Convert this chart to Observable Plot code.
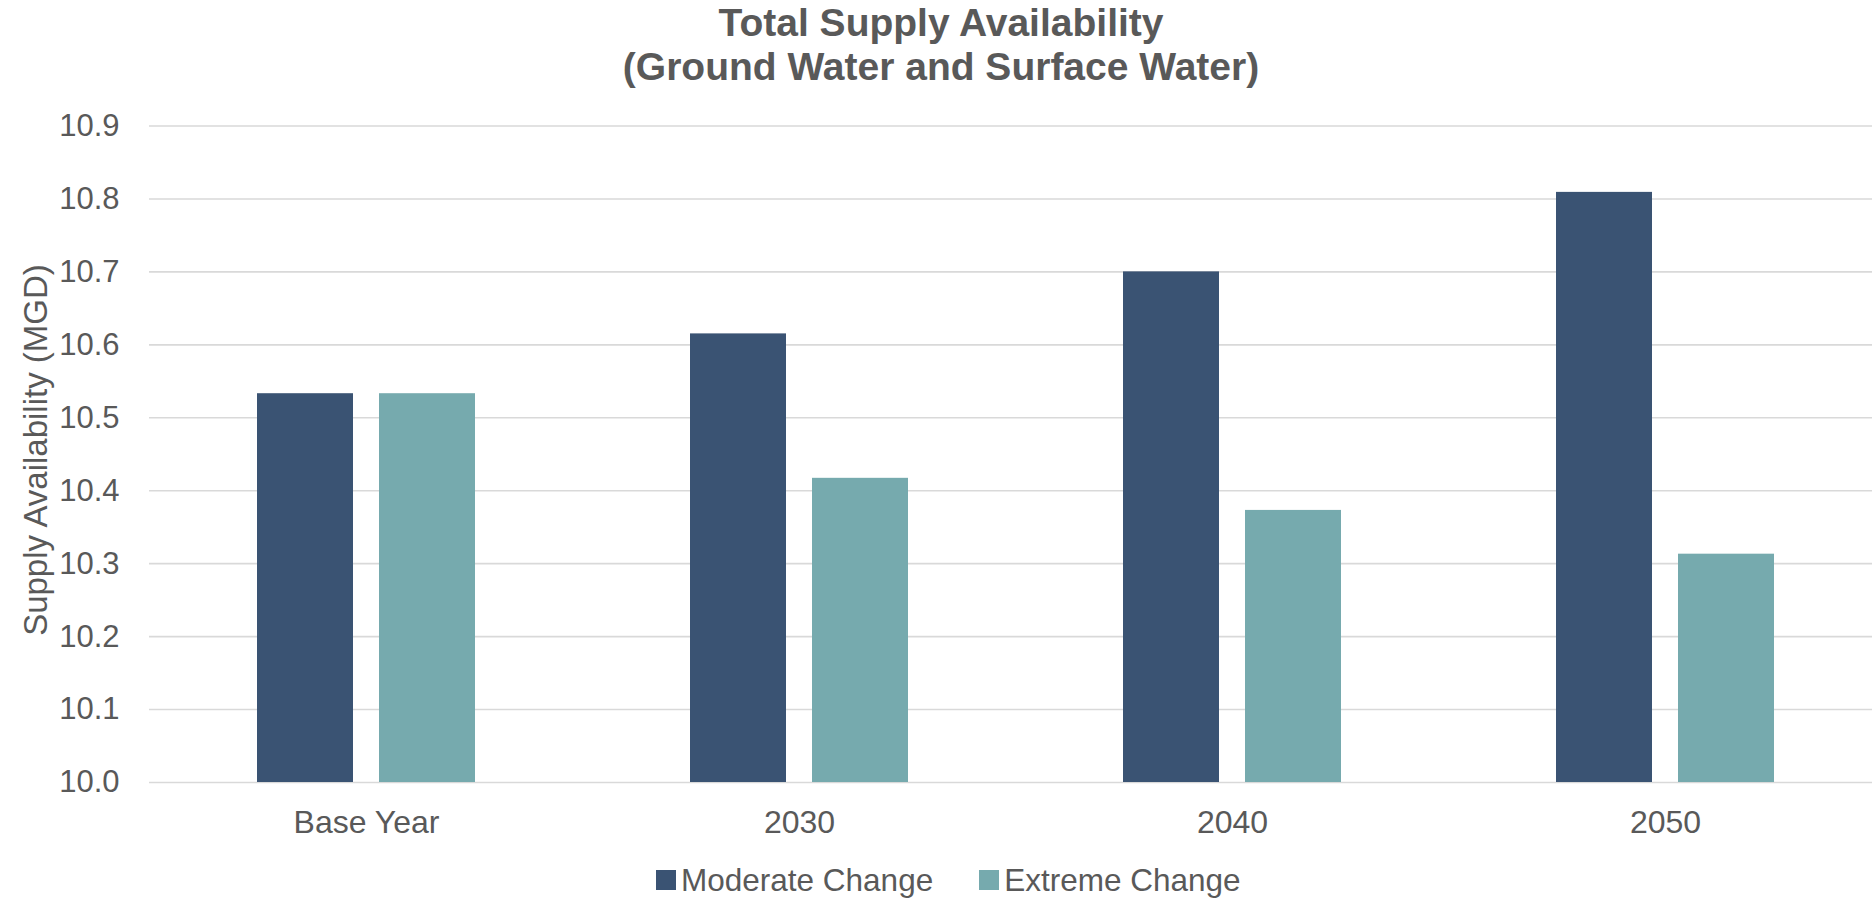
<!DOCTYPE html>
<html>
<head>
<meta charset="utf-8">
<script src="https://cdn.jsdelivr.net/npm/d3@7"></script>
<script src="https://cdn.jsdelivr.net/npm/@observablehq/plot@0.6"></script>
<style>
  html, body { margin: 0; padding: 0; background: #fff; }
  body { width: 1872px; height: 900px; overflow: hidden; position: relative;
         font-family: "Liberation Sans", Arial, sans-serif; color: #595959; }
  #title { position: absolute; top: 1px; left: 0; width: 1882px; text-align: center;
           font-weight: bold; font-size: 39px; line-height: 44px; }
  #grid, #chart { position: absolute; top: 100px; left: 0; }
  #ytitle { position: absolute; left: 36px; top: 450px; transform: translate(-50%, -50%) rotate(-90deg);
            white-space: nowrap; font-size: 33px; line-height: 36px; }
  #legend { position: absolute; top: 861px; left: 656px; height: 38px; display: flex; align-items: center;
            font-size: 31.5px; }
  .item { display: flex; align-items: center; margin-right: 46px; }
  .sw { width: 20px; height: 20px; margin-right: 5px; }
</style>
</head>
<body>
<div id="title">Total Supply Availability<br>(Ground Water and Surface Water)</div>
<div id="grid"></div>
<div id="chart"></div>
<div id="ytitle">Supply Availability (MGD)</div>
<div id="legend"></div>
<script>
const categories = ["Base Year", "2030", "2040", "2050"];
const seriesNames = ["Moderate Change", "Extreme Change"];
const moderateValues = [10.533, 10.615, 10.700, 10.809];
const extremeValues = [10.533, 10.417, 10.373, 10.313];
const yTicks = [10.0, 10.1, 10.2, 10.3, 10.4, 10.5, 10.6, 10.7, 10.8, 10.9];
const colors = ["#3A5373", "#76AAAE"];

const data = [];
categories.forEach((c, i) => {
  data.push({category: c, series: seriesNames[0], value: moderateValues[i]});
  data.push({category: c, series: seriesNames[1], value: extremeValues[i]});
});

const common = {
  width: 1872,
  height: 750,
  marginLeft: 149,
  marginRight: 0,
  marginTop: 25.5,
  marginBottom: 68,
  style: {fontFamily: "'Liberation Sans', Arial, sans-serif", fontSize: "32px", color: "#595959", background: "transparent"}
};

// Layer 1: gridlines and y tick labels
const grid = Plot.plot({
  ...common,
  y: {domain: [10.0, 10.9]},
  marks: [
    Plot.ruleY(yTicks, {y: d => d, stroke: "#D9D9D9", strokeWidth: 1.6}),
    Plot.axisY(yTicks, {tickSize: 0, tickPadding: 30, tickFormat: d => d.toFixed(1),
                        fontSize: 31, fill: "#595959", label: null})
  ]
});
document.getElementById("grid").appendChild(grid);

// Layer 2: grouped bars
const chart = Plot.plot({
  ...common,
  fx: {domain: categories, range: [149, 1881], paddingInner: 0.492, paddingOuter: 0.246,
       axis: "bottom", tickSize: 0, tickPadding: 28, label: null},
  x: {domain: seriesNames, paddingInner: 0.211, paddingOuter: 0, axis: null},
  y: {domain: [10.0, 10.9], axis: null},
  color: {domain: seriesNames, range: colors},
  marks: [
    Plot.barY(data, {fx: "category", x: "series", y1: 10.0, y2: "value", fill: "series"})
  ]
});
document.getElementById("chart").appendChild(chart);

const legend = document.getElementById("legend");
seriesNames.forEach((s, i) => {
  const item = document.createElement("div");
  item.className = "item";
  const sw = document.createElement("div");
  sw.className = "sw";
  sw.style.background = colors[i];
  const t = document.createElement("span");
  t.textContent = s;
  item.appendChild(sw);
  item.appendChild(t);
  legend.appendChild(item);
});
</script>
</body>
</html>
